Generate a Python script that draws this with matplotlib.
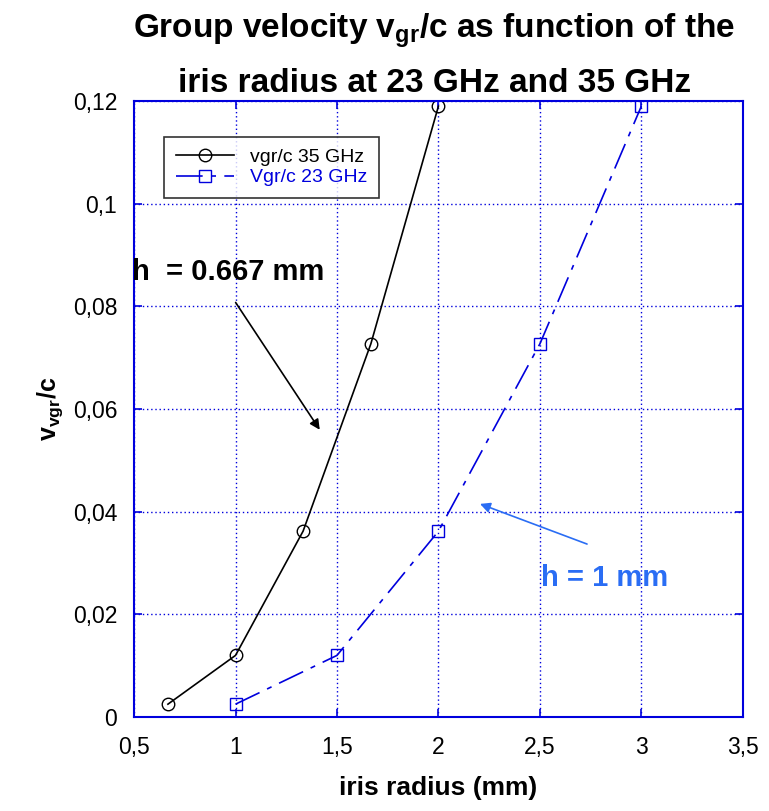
import matplotlib
matplotlib.use("Agg")
import matplotlib.pyplot as plt
from matplotlib import font_manager
from matplotlib.ticker import FuncFormatter

names = {f.name for f in font_manager.fontManager.ttflist}
narrow = "Liberation Sans Narrow" if "Liberation Sans Narrow" in names else "Liberation Sans"
plt.rcParams['font.family'] = ['Liberation Sans', 'DejaVu Sans']
plt.rcParams['mathtext.fontset'] = 'custom'
plt.rcParams['mathtext.rm'] = narrow + ':bold'
plt.rcParams['mathtext.bf'] = narrow + ':bold'

# data
r35 = [0.667, 1.0, 1.333, 1.667, 2.0]
v35 = [0.0025, 0.012, 0.0362, 0.0727, 0.119]
r23 = [1.0, 1.5, 2.0, 2.5, 3.0]
v23 = [0.0025, 0.012, 0.0362, 0.0727, 0.119]
xticks = [0.5, 1, 1.5, 2, 2.5, 3, 3.5]
yticks = [0, 0.02, 0.04, 0.06, 0.08, 0.1, 0.12]

blue = '#0000dd'
fig = plt.figure(figsize=(7.69, 8.11), dpi=100)
ax = fig.add_axes([0.1743, 0.1159, 0.966 - 0.1743, 0.8755 - 0.1159])

ax.plot(r35, v35, color='black', lw=1.2, marker='o', ms=9, mfc='none',
        mec='black', label='vgr/c 35 GHz')
ax.plot(r23, v23, color=blue, lw=1.2, dashes=(16, 5, 3, 5), marker='s', ms=9,
        mfc='none', mec=blue, label='Vgr/c 23 GHz')

ax.set_xlim(0.5, 3.5)
ax.set_ylim(0, 0.12)
ax.set_xticks(xticks)
ax.set_yticks(yticks)
fmt = FuncFormatter(lambda v, p: ('%g' % v).replace('.', ','))
ax.xaxis.set_major_formatter(fmt)
ax.yaxis.set_major_formatter(fmt)
ax.grid(True, color=blue, linestyle=(0, (1, 2)), lw=1)
for s in ax.spines.values():
    s.set_color(blue)
    s.set_linewidth(1.5)
ax.tick_params(axis='both', direction='in', color=blue, length=6, width=1.2,
               labelsize=16.5, top=True, right=True)
ax.tick_params(axis='x', pad=14)
ax.tick_params(axis='y', pad=12)

leg = ax.legend(loc='upper left', bbox_to_anchor=(0.034, 0.958), fontsize=14,
                frameon=True, fancybox=False, edgecolor='black',
                handlelength=3, borderpad=0.6, labelspacing=0.15)
leg.get_frame().set_linewidth(1.2)
leg.texts[1].set_color(blue)

ax.annotate('', xy=(1.4226, 0.0555), xytext=(0.993, 0.0812),
            arrowprops=dict(arrowstyle='-|>', color='black', lw=1.2, mutation_scale=15))
ax.text(0.49, 0.0867, 'h  = 0.667 mm', fontsize=21, fontweight='bold',
        va='center', ha='left', clip_on=False)
ax.annotate('', xy=(2.192, 0.0417), xytext=(2.745, 0.0335),
            arrowprops=dict(arrowstyle='-|>', color='#2a6df4', lw=1.2, mutation_scale=15))
ax.text(2.503, 0.0271, 'h = 1 mm', fontsize=21, fontweight='bold',
        color='#2a6df4', va='center', ha='left')

ax.set_xlabel('iris radius (mm)', fontsize=19, fontweight='bold', labelpad=12)
ax.set_ylabel(r'v$_{\mathbf{vgr}}$/c', fontsize=18, fontweight='bold', labelpad=6)

fig.text(0.565, 0.962, r'Group velocity v$_{\mathbf{gr}}$/c as function of the',
         fontsize=24, fontweight='bold', family=narrow, ha='center', va='center')
fig.text(0.565, 0.897, 'iris radius at 23 GHz and 35 GHz',
         fontsize=24, fontweight='bold', family=narrow, ha='center', va='center')

fig.savefig('out.png', dpi=100)
